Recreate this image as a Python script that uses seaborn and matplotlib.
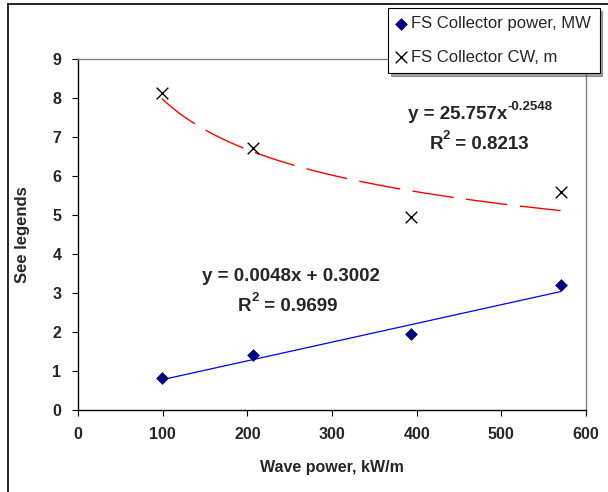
import numpy as np
import pandas as pd
import matplotlib.pyplot as plt
import seaborn as sns

# data
wave_power = [99, 207, 393, 570]
power_mw = [0.82, 1.40, 1.95, 3.20]
cw_m = [8.12, 6.73, 4.95, 5.60]

# trendline coefficients shown on the chart
lin_a, lin_b = 0.0048, 0.3002
pow_a, pow_b = 25.757, -0.2548

sns.set_style('white')
plt.rcParams['font.family'] = ['Liberation Sans', 'DejaVu Sans']

fig = plt.figure(figsize=(6.08, 4.92), dpi=100)
ax = fig.add_axes([78/608, 82/492, 508/608, 351/492])

df = pd.DataFrame({'x': wave_power, 'mw': power_mw, 'cw': cw_m})
xs = np.linspace(min(wave_power), max(wave_power), 100)
fit = pd.DataFrame({'x': xs, 'lin': lin_a*xs + lin_b, 'pw': pow_a*xs**pow_b})

sns.lineplot(data=fit, x='x', y='lin', ax=ax, color='blue', lw=0.9)
sns.lineplot(data=fit, x='x', y='pw', ax=ax, color='red', lw=1.0)
ax.lines[-1].set_dashes([30, 9])

sns.scatterplot(data=df, x='x', y='mw', ax=ax, marker='D', color='#000080',
                s=36, edgecolor='#000080', label='FS Collector power, MW', zorder=3)
sns.scatterplot(data=df, x='x', y='cw', ax=ax, marker='x', color='black',
                s=70, linewidth=1.0, label='FS Collector CW, m', zorder=3)

ax.set_xlim(0, 600)
ax.set_ylim(0, 9)
ax.set_xticks(range(0, 601, 100))
ax.set_yticks(range(0, 10))
ax.tick_params(axis='both', direction='out', length=4, width=0.8, color='black',
               labelsize=11.5, left=True, bottom=True)
ax.tick_params(axis='x', pad=8)
ax.tick_params(axis='y', pad=8)
for lab in ax.get_xticklabels() + ax.get_yticklabels():
    lab.set_fontweight('bold')
ax.set_xlabel('Wave power, kW/m', fontsize=11.5, fontweight='bold', va='center')
ax.set_ylabel('See legends', fontsize=12, fontweight='bold', va='center')
ax.xaxis.set_label_coords(0.5, -0.165)
ax.yaxis.set_label_coords(-0.110, 0.5)

for s in ['left', 'bottom']:
    ax.spines[s].set_color('black')
    ax.spines[s].set_linewidth(1.0)
for s in ['top', 'right']:
    ax.spines[s].set_color('#808080')
    ax.spines[s].set_linewidth(1.0)


def sup_text(x, y, base, sup, rest=''):
    t = ax.text(x, y, base, ha='left', va='baseline', fontsize=13.5, fontweight='bold')
    s = ax.annotate(sup, xy=(1, 0.62), xycoords=t, ha='left', va='bottom',
                    fontsize=9.5, fontweight='bold')
    if rest:
        ax.annotate(rest, xy=(1, 0), xycoords=(s, t), ha='left', va='bottom',
                    fontsize=13.5, fontweight='bold')


sup_text(390, 7.45, 'y = 25.757x', '-0.2548')
sup_text(415, 6.7, 'R', '2', ' = 0.8213')
ax.text(147, 3.32, 'y = 0.0048x + 0.3002', ha='left', va='baseline',
        fontsize=13.5, fontweight='bold')
sup_text(189, 2.55, 'R', '2', ' = 0.9699')

leg = ax.legend(loc='upper left', bbox_to_anchor=(388/608, 1 - 8/492),
                bbox_transform=fig.transFigure, frameon=True, fancybox=False,
                shadow=True, fontsize=12, handlelength=0.6, handletextpad=0.3,
                labelspacing=1.1, borderpad=0.5, borderaxespad=0)
leg.get_frame().set_edgecolor('black')
leg.get_frame().set_linewidth(0.8)

# outer chart border
fig.add_artist(plt.Line2D([8/608, 8/608], [0, 1 - 4/492], color='black', lw=1.2))
fig.add_artist(plt.Line2D([8/608, 1], [1 - 4/492, 1 - 4/492], color='black', lw=1.2))

fig.savefig('out.png', dpi=100)
